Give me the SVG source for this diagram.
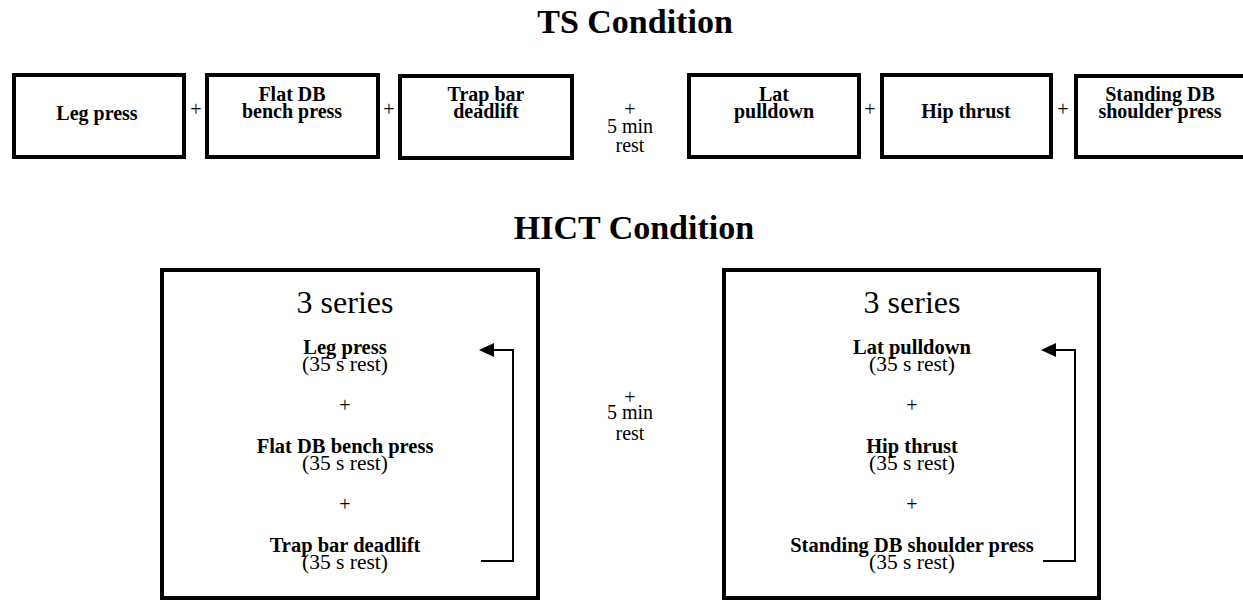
<svg xmlns="http://www.w3.org/2000/svg" width="1243" height="600" viewBox="0 0 1243 600" font-family="'Liberation Serif', 'Times New Roman', Times, serif">
<defs>
<style>
.box{fill:#fff;stroke:#000;stroke-width:4}
text{font-family:'Liberation Serif','Times New Roman',Times,serif;fill:#000;text-anchor:middle}
.b{font-weight:bold;font-size:20px}
.bb{font-weight:bold;font-size:20.5px}
.r{font-size:20px}
.rr{font-size:21.5px}
.title{font-weight:bold;font-size:34px}
.ser{font-size:32px}
.con{fill:none;stroke:#000;stroke-width:2}
</style>
</defs>
<rect width="1243" height="600" fill="#fff"/>
<text class="title" x="635" y="33">TS Condition</text>
<text class="title" x="634" y="239">HICT Condition</text>

<g id="ts-leg-press"><rect class="box" x="14" y="75" width="170" height="82"/><text class="b" x="97" y="120">Leg press</text></g>
<text class="r" x="196" y="116">+</text>
<g id="ts-flat-db"><rect class="box" x="207" y="75" width="171" height="82"/><text class="b" x="292" y="101">Flat DB</text><text class="b" x="292" y="118">bench press</text></g>
<text class="r" x="389" y="116">+</text>
<g id="ts-trap-bar"><rect class="box" x="400" y="76" width="172" height="82"/><text class="b" x="486" y="101">Trap bar</text><text class="b" x="486" y="118">deadlift</text></g>
<g id="ts-rest"><text class="r" x="630" y="116">+</text><text class="r" x="630" y="133">5 min</text><text class="r" x="630" y="152">rest</text></g>
<g id="ts-lat"><rect class="box" x="689" y="75" width="170" height="82"/><text class="b" x="774" y="101">Lat</text><text class="b" x="774" y="118">pulldown</text></g>
<text class="r" x="870" y="116">+</text>
<g id="ts-hip"><rect class="box" x="882" y="75" width="169" height="82"/><text class="b" x="966" y="118">Hip thrust</text></g>
<text class="r" x="1063" y="116">+</text>
<g id="ts-standing"><rect class="box" x="1076" y="76" width="170" height="81"/><text class="b" x="1160" y="101">Standing DB</text><text class="b" x="1160" y="118">shoulder press</text></g>

<g id="hict-left">
<rect class="box" x="162" y="270" width="376" height="328"/>
<text class="ser" x="345" y="313">3 series</text>
<text class="bb" x="345" y="354">Leg press</text>
<text class="rr" x="345" y="371">(35 s rest)</text>
<text class="r" x="345" y="412">+</text>
<text class="bb" x="345" y="453">Flat DB bench press</text>
<text class="rr" x="345" y="470">(35 s rest)</text>
<text class="r" x="345" y="511">+</text>
<text class="bb" x="345" y="552">Trap bar deadlift</text>
<text class="rr" x="345" y="569">(35 s rest)</text>
</g>
<g id="hict-rest"><text class="r" x="630" y="404">+</text><text class="r" x="630" y="419">5 min</text><text class="r" x="630" y="440">rest</text></g>
<g id="hict-right">
<rect class="box" x="724" y="270" width="375" height="328"/>
<text class="ser" x="912" y="313">3 series</text>
<text class="bb" x="912" y="354">Lat pulldown</text>
<text class="rr" x="912" y="371">(35 s rest)</text>
<text class="r" x="912" y="412">+</text>
<text class="bb" x="912" y="453">Hip thrust</text>
<text class="rr" x="912" y="470">(35 s rest)</text>
<text class="r" x="912" y="511">+</text>
<text class="bb" x="912" y="552">Standing DB shoulder press</text>
<text class="rr" x="912" y="569">(35 s rest)</text>
</g>

<g id="connectors">
<path class="con" d="M481,561 H513 V350 H493"/>
<path d="M479,350 L494,343 L494,357 Z" fill="#000"/>
<path class="con" d="M1043,561 H1075 V350 H1055"/>
<path d="M1041,350 L1056,343 L1056,357 Z" fill="#000"/>
</g>
</svg>
